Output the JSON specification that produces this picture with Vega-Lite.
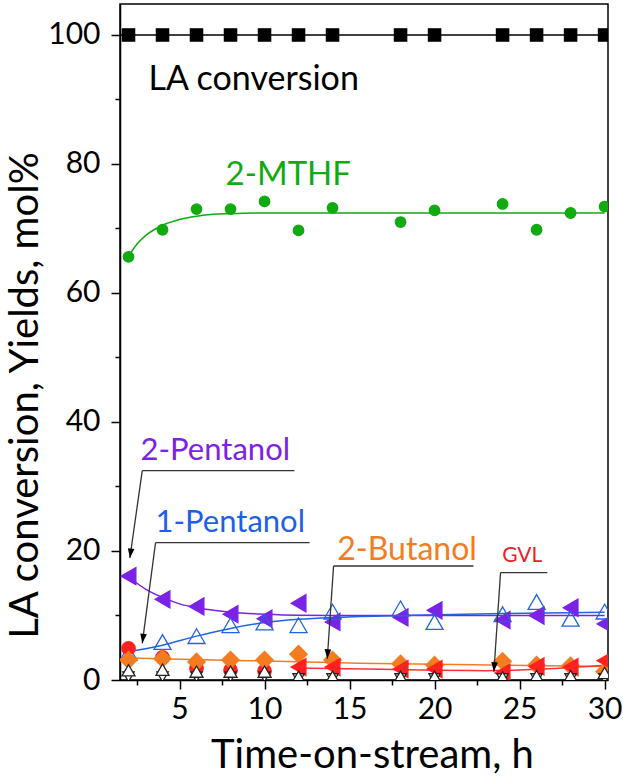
{
  "$schema": "https://vega.github.io/schema/vega-lite/v6.json",
  "width": 488,
  "height": 676,
  "autosize": {"type": "none"},
  "padding": {"left": 120, "top": 4, "right": 15, "bottom": 99},
  "background": "white",
  "config": {
    "font": "Lato",
    "view": {"stroke": "black", "strokeWidth": 1.5},
    "axis": {
      "grid": false,
      "domainColor": "black",
      "domainWidth": 1.5,
      "tickColor": "black",
      "tickWidth": 1.5,
      "labelColor": "black",
      "titleColor": "black",
      "labelFont": "Lato",
      "titleFont": "Lato",
      "labelFontSize": 30,
      "titleFontWeight": "normal"
    }
  },
  "datasets": {
    "points": [
      {"t": 2, "y": 100, "series": "LA conversion"},
      {"t": 4, "y": 100, "series": "LA conversion"},
      {"t": 6, "y": 100, "series": "LA conversion"},
      {"t": 8, "y": 100, "series": "LA conversion"},
      {"t": 10, "y": 100, "series": "LA conversion"},
      {"t": 12, "y": 100, "series": "LA conversion"},
      {"t": 14, "y": 100, "series": "LA conversion"},
      {"t": 18, "y": 100, "series": "LA conversion"},
      {"t": 20, "y": 100, "series": "LA conversion"},
      {"t": 24, "y": 100, "series": "LA conversion"},
      {"t": 26, "y": 100, "series": "LA conversion"},
      {"t": 28, "y": 100, "series": "LA conversion"},
      {"t": 30, "y": 100, "series": "LA conversion"},
      {"t": 2, "y": 65.6, "series": "2-MTHF"},
      {"t": 4, "y": 69.8, "series": "2-MTHF"},
      {"t": 6, "y": 73.0, "series": "2-MTHF"},
      {"t": 8, "y": 73.0, "series": "2-MTHF"},
      {"t": 10, "y": 74.2, "series": "2-MTHF"},
      {"t": 12, "y": 69.7, "series": "2-MTHF"},
      {"t": 14, "y": 73.2, "series": "2-MTHF"},
      {"t": 18, "y": 71.0, "series": "2-MTHF"},
      {"t": 20, "y": 72.8, "series": "2-MTHF"},
      {"t": 24, "y": 73.8, "series": "2-MTHF"},
      {"t": 26, "y": 69.8, "series": "2-MTHF"},
      {"t": 28, "y": 72.4, "series": "2-MTHF"},
      {"t": 30, "y": 73.4, "series": "2-MTHF"},
      {"t": 2, "y": 16.1, "series": "2-Pentanol"},
      {"t": 4, "y": 12.5, "series": "2-Pentanol"},
      {"t": 6, "y": 11.4, "series": "2-Pentanol"},
      {"t": 8, "y": 10.2, "series": "2-Pentanol"},
      {"t": 10, "y": 9.5, "series": "2-Pentanol"},
      {"t": 12, "y": 11.9, "series": "2-Pentanol"},
      {"t": 14, "y": 9.0, "series": "2-Pentanol"},
      {"t": 18, "y": 9.7, "series": "2-Pentanol"},
      {"t": 20, "y": 10.8, "series": "2-Pentanol"},
      {"t": 24, "y": 9.3, "series": "2-Pentanol"},
      {"t": 26, "y": 10.0, "series": "2-Pentanol"},
      {"t": 28, "y": 11.2, "series": "2-Pentanol"},
      {"t": 30, "y": 8.7, "series": "2-Pentanol"},
      {"t": 2, "y": 4.2, "series": "1-Pentanol"},
      {"t": 4, "y": 5.9, "series": "1-Pentanol"},
      {"t": 6, "y": 6.8, "series": "1-Pentanol"},
      {"t": 8, "y": 8.5, "series": "1-Pentanol"},
      {"t": 10, "y": 8.9, "series": "1-Pentanol"},
      {"t": 12, "y": 8.5, "series": "1-Pentanol"},
      {"t": 14, "y": 10.6, "series": "1-Pentanol"},
      {"t": 18, "y": 11.1, "series": "1-Pentanol"},
      {"t": 20, "y": 9.0, "series": "1-Pentanol"},
      {"t": 24, "y": 10.2, "series": "1-Pentanol"},
      {"t": 26, "y": 12.1, "series": "1-Pentanol"},
      {"t": 28, "y": 9.5, "series": "1-Pentanol"},
      {"t": 30, "y": 10.6, "series": "1-Pentanol"},
      {"t": 2, "y": 4.9, "series": "red circles"},
      {"t": 4, "y": 3.5, "series": "red circles"},
      {"t": 6, "y": 1.8, "series": "red circles"},
      {"t": 8, "y": 1.5, "series": "red circles"},
      {"t": 10, "y": 1.4, "series": "red circles"},
      {"t": 2, "y": 3.1, "series": "2-Butanol"},
      {"t": 4, "y": 3.3, "series": "2-Butanol"},
      {"t": 6, "y": 2.8, "series": "2-Butanol"},
      {"t": 8, "y": 3.1, "series": "2-Butanol"},
      {"t": 10, "y": 3.1, "series": "2-Butanol"},
      {"t": 12, "y": 4.0, "series": "2-Butanol"},
      {"t": 14, "y": 3.1, "series": "2-Butanol"},
      {"t": 18, "y": 2.5, "series": "2-Butanol"},
      {"t": 20, "y": 2.3, "series": "2-Butanol"},
      {"t": 24, "y": 2.9, "series": "2-Butanol"},
      {"t": 26, "y": 2.3, "series": "2-Butanol"},
      {"t": 28, "y": 2.2, "series": "2-Butanol"},
      {"t": 30, "y": 1.3, "series": "2-Butanol"},
      {"t": 12, "y": 2.0, "series": "GVL"},
      {"t": 14, "y": 2.0, "series": "GVL"},
      {"t": 18, "y": 1.7, "series": "GVL"},
      {"t": 20, "y": 1.7, "series": "GVL"},
      {"t": 24, "y": 1.1, "series": "GVL"},
      {"t": 26, "y": 2.1, "series": "GVL"},
      {"t": 28, "y": 2.0, "series": "GVL"},
      {"t": 30, "y": 3.0, "series": "GVL"},
      {"t": 2, "y": 0.3, "series": "green"},
      {"t": 4, "y": 0.3, "series": "green"},
      {"t": 6, "y": 0.3, "series": "green"},
      {"t": 8, "y": 0.3, "series": "green"},
      {"t": 10, "y": 0.3, "series": "green"},
      {"t": 12, "y": 0.3, "series": "green"},
      {"t": 14, "y": 0.3, "series": "green"},
      {"t": 18, "y": 0.3, "series": "green"},
      {"t": 20, "y": 0.3, "series": "green"},
      {"t": 24, "y": 0.3, "series": "green"},
      {"t": 26, "y": 0.3, "series": "green"},
      {"t": 28, "y": 0.3, "series": "green"},
      {"t": 30, "y": 0.3, "series": "green"},
      {"t": 2, "y": 0.5, "series": "open down"},
      {"t": 4, "y": 0.5, "series": "open down"},
      {"t": 6, "y": 0.5, "series": "open down"},
      {"t": 8, "y": 0.5, "series": "open down"},
      {"t": 10, "y": 0.5, "series": "open down"},
      {"t": 12, "y": 0.2, "series": "open down"},
      {"t": 14, "y": 0.2, "series": "open down"},
      {"t": 18, "y": 0.2, "series": "open down"},
      {"t": 20, "y": 0.2, "series": "open down"},
      {"t": 24, "y": 0.2, "series": "open down"},
      {"t": 26, "y": 0.2, "series": "open down"},
      {"t": 28, "y": 0.2, "series": "open down"},
      {"t": 30, "y": 0.2, "series": "open down"},
      {"t": 2, "y": 1.5, "series": "open up"},
      {"t": 4, "y": 1.6, "series": "open up"},
      {"t": 6, "y": 1.3, "series": "open up"},
      {"t": 8, "y": 1.3, "series": "open up"},
      {"t": 10, "y": 1.3, "series": "open up"},
      {"t": 12, "y": 0.5, "series": "open up"},
      {"t": 14, "y": 0.5, "series": "open up"},
      {"t": 18, "y": 0.5, "series": "open up"},
      {"t": 20, "y": 0.5, "series": "open up"},
      {"t": 24, "y": 0.4, "series": "open up"},
      {"t": 26, "y": 0.6, "series": "open up"},
      {"t": 28, "y": 0.6, "series": "open up"},
      {"t": 30, "y": 1.1, "series": "open up"}
    ],
    "fits": [
      {"t": 1.5, "y": 100, "series": "LA conversion"},
      {"t": 30.2, "y": 100, "series": "LA conversion"},
      {"t": 2.1, "y": 66.1, "series": "2-MTHF"},
      {"t": 2.5, "y": 67.6, "series": "2-MTHF"},
      {"t": 3, "y": 68.9, "series": "2-MTHF"},
      {"t": 3.5, "y": 69.8, "series": "2-MTHF"},
      {"t": 4, "y": 70.5, "series": "2-MTHF"},
      {"t": 5, "y": 71.4, "series": "2-MTHF"},
      {"t": 6, "y": 71.9, "series": "2-MTHF"},
      {"t": 7, "y": 72.2, "series": "2-MTHF"},
      {"t": 8, "y": 72.3, "series": "2-MTHF"},
      {"t": 10, "y": 72.4, "series": "2-MTHF"},
      {"t": 20, "y": 72.4, "series": "2-MTHF"},
      {"t": 30, "y": 72.4, "series": "2-MTHF"},
      {"t": 2, "y": 16.0, "series": "2-Pentanol"},
      {"t": 2.5, "y": 15.0, "series": "2-Pentanol"},
      {"t": 3, "y": 14.1, "series": "2-Pentanol"},
      {"t": 3.5, "y": 13.4, "series": "2-Pentanol"},
      {"t": 4, "y": 12.8, "series": "2-Pentanol"},
      {"t": 5, "y": 11.8, "series": "2-Pentanol"},
      {"t": 6, "y": 11.2, "series": "2-Pentanol"},
      {"t": 7, "y": 10.8, "series": "2-Pentanol"},
      {"t": 8, "y": 10.5, "series": "2-Pentanol"},
      {"t": 10, "y": 10.2, "series": "2-Pentanol"},
      {"t": 12, "y": 10.05, "series": "2-Pentanol"},
      {"t": 16, "y": 10.0, "series": "2-Pentanol"},
      {"t": 30, "y": 10.0, "series": "2-Pentanol"},
      {"t": 1.8, "y": 4.3, "series": "1-Pentanol"},
      {"t": 4, "y": 5.4, "series": "1-Pentanol"},
      {"t": 6, "y": 6.8, "series": "1-Pentanol"},
      {"t": 8, "y": 8.0, "series": "1-Pentanol"},
      {"t": 10, "y": 8.9, "series": "1-Pentanol"},
      {"t": 12, "y": 9.4, "series": "1-Pentanol"},
      {"t": 14, "y": 9.7, "series": "1-Pentanol"},
      {"t": 18, "y": 10.0, "series": "1-Pentanol"},
      {"t": 24, "y": 10.3, "series": "1-Pentanol"},
      {"t": 30, "y": 10.5, "series": "1-Pentanol"},
      {"t": 2, "y": 3.4, "series": "2-Butanol"},
      {"t": 9, "y": 3.0, "series": "2-Butanol"},
      {"t": 15.6, "y": 2.6, "series": "2-Butanol"},
      {"t": 24, "y": 2.3, "series": "2-Butanol"},
      {"t": 30, "y": 2.1, "series": "2-Butanol"},
      {"t": 11.8, "y": 1.85, "series": "GVL"},
      {"t": 16, "y": 1.7, "series": "GVL"},
      {"t": 20, "y": 1.5, "series": "GVL"},
      {"t": 23, "y": 1.45, "series": "GVL"},
      {"t": 25, "y": 1.55, "series": "GVL"},
      {"t": 27, "y": 1.8, "series": "GVL"},
      {"t": 29, "y": 2.1, "series": "GVL"},
      {"t": 30, "y": 2.3, "series": "GVL"}
    ],
    "notes": [
      {"label": "LA conversion", "t": 3.18, "y": 91.5},
      {"label": "2-MTHF", "t": 7.71, "y": 76.7},
      {"label": "2-Pentanol", "t": 2.71, "y": 34.1},
      {"label": "1-Pentanol", "t": 3.59, "y": 23.0},
      {"label": "2-Butanol", "t": 14.28, "y": 18.6},
      {"label": "GVL", "t": 23.98, "y": 18.3}
    ],
    "leaders": [
      {"label": "2-Pentanol", "t": 2.81, "y": 32.45, "t2": 11.76, "y2": 32.45},
      {"label": "1-Pentanol", "t": 3.59, "y": 21.29, "t2": 12.65, "y2": 21.29},
      {"label": "2-Butanol", "t": 14.06, "y": 17.67, "t2": 22.29, "y2": 17.67},
      {"label": "GVL", "t": 23.88, "y": 16.64, "t2": 26.63, "y2": 16.64},
      {"label": "2-Pentanol", "t": 2.81, "y": 32.45, "t2": 2.08, "y2": 18.91},
      {"label": "1-Pentanol", "t": 3.59, "y": 21.29, "t2": 2.81, "y2": 5.69},
      {"label": "2-Butanol", "t": 14.06, "y": 17.67, "t2": 13.69, "y2": 3.3},
      {"label": "GVL", "t": 23.88, "y": 16.64, "t2": 23.49, "y2": 1.29}
    ],
    "tips": [
      {"label": "2-Pentanol", "t": 2.08, "y": 18.91},
      {"label": "1-Pentanol", "t": 2.81, "y": 5.69},
      {"label": "2-Butanol", "t": 13.69, "y": 3.3},
      {"label": "GVL", "t": 23.49, "y": 1.29}
    ]
  },
  "resolve": {
    "axis": {"x": "independent", "y": "independent"},
    "scale": {"color": "independent"}
  },
  "layer": [
    {
      "data": {"name": "fits"},
      "mark": {"type": "line", "strokeWidth": 1.5, "interpolate": "monotone", "clip": true},
      "encoding": {
        "x": {
          "field": "t",
          "type": "quantitative",
          "scale": {"domain": [1.5, 30.2], "nice": false, "zero": false},
          "axis": {
            "orient": "bottom",
            "values": [2.5, 7.5, 12.5, 17.5, 22.5, 27.5],
            "tickSize": 5,
            "labels": false,
            "domain": false,
            "title": null
          }
        },
        "y": {
          "field": "y",
          "type": "quantitative",
          "scale": {"domain": [0, 104.8], "nice": false, "zero": false},
          "axis": {
            "orient": "left",
            "values": [10, 30, 50, 70, 90],
            "tickSize": 5,
            "labels": false,
            "domain": false,
            "title": null
          }
        },
        "detail": {"field": "series"},
        "color": {
          "field": "series",
          "type": "nominal",
          "legend": null,
          "scale": {
            "domain": ["LA conversion", "2-MTHF", "2-Pentanol", "1-Pentanol", "2-Butanol", "GVL"],
            "range": ["#000000", "#11aa11", "#7b22e6", "#2063e3", "#f47c20", "#ff3030"]
          }
        }
      }
    },
    {
      "data": {"name": "points"},
      "mark": {"type": "point", "filled": true, "strokeWidth": 1.3, "opacity": 1, "clip": true},
      "encoding": {
        "x": {
          "field": "t",
          "type": "quantitative",
          "axis": {
            "orient": "bottom",
            "values": [5, 10, 15, 20, 25, 30],
            "tickSize": 9,
            "labelPadding": 5,
            "title": "Time-on-stream, h",
            "titleFontSize": 40,
            "titleBaseline": "alphabetic",
            "titleX": 252,
            "titleY": 87
          }
        },
        "y": {
          "field": "y",
          "type": "quantitative",
          "axis": {
            "orient": "left",
            "values": [0, 20, 40, 60, 80, 100],
            "tickSize": 9,
            "labelPadding": 11,
            "title": "LA conversion, Yields, mol%",
            "titleFontSize": 40,
            "titleBaseline": "alphabetic",
            "titleX": -83,
            "titleY": 391
          }
        },
        "shape": {
          "field": "series",
          "type": "nominal",
          "legend": null,
          "scale": {
            "domain": ["LA conversion", "2-MTHF", "2-Pentanol", "1-Pentanol", "red circles", "2-Butanol", "GVL", "green", "open down", "open up"],
            "range": ["square", "circle", "triangle-left", "triangle-up", "circle", "diamond", "triangle-left", "diamond", "triangle-down", "triangle-up"]
          }
        },
        "size": {
          "condition": [
            {"test": "datum.series === 'LA conversion'", "value": 150},
            {"test": "datum.series === '2-MTHF'", "value": 110},
            {"test": "datum.series === 'red circles'", "value": 180},
            {"test": "datum.series === '2-Butanol'", "value": 300},
            {"test": "datum.series === 'green'", "value": 12},
            {"test": "datum.series === 'open down'", "value": 130},
            {"test": "datum.series === 'open up'", "value": 170}
          ],
          "value": 290
        },
        "fill": {
          "field": "series",
          "type": "nominal",
          "legend": null,
          "scale": {
            "domain": ["LA conversion", "2-MTHF", "2-Pentanol", "1-Pentanol", "red circles", "2-Butanol", "GVL", "green", "open down", "open up"],
            "range": ["#000000", "#11aa11", "#7b22e6", "transparent", "#ff2020", "#f47c20", "#ff2020", "#11aa11", "white", "white"]
          }
        },
        "stroke": {
          "field": "series",
          "type": "nominal",
          "legend": null,
          "scale": {
            "domain": ["LA conversion", "2-MTHF", "2-Pentanol", "1-Pentanol", "red circles", "2-Butanol", "GVL", "green", "open down", "open up"],
            "range": ["#000000", "#11aa11", "#7b22e6", "#2063e3", "#ff2020", "#f47c20", "#ff2020", "#11aa11", "#222222", "#222222"]
          }
        }
      }
    },
    {
      "data": {"name": "leaders"},
      "mark": {"type": "rule", "color": "#333333", "strokeWidth": 1.3},
      "encoding": {
        "x": {"field": "t", "type": "quantitative", "axis": null},
        "y": {"field": "y", "type": "quantitative", "axis": null},
        "x2": {"field": "t2"},
        "y2": {"field": "y2"}
      }
    },
    {
      "data": {"name": "tips"},
      "mark": {"type": "point", "filled": true, "color": "black", "shape": "M0,0L-0.35,-1L0.35,-1Z", "size": 360, "opacity": 1},
      "encoding": {
        "x": {"field": "t", "type": "quantitative", "axis": null},
        "y": {"field": "y", "type": "quantitative", "axis": null},
        "angle": {
          "condition": {"test": "datum.label === '2-Pentanol' || datum.label === '1-Pentanol'", "value": 8},
          "value": 4
        }
      }
    },
    {
      "data": {"name": "notes"},
      "mark": {"type": "text", "align": "left", "baseline": "alphabetic", "font": "Lato"},
      "encoding": {
        "x": {"field": "t", "type": "quantitative", "axis": null},
        "y": {"field": "y", "type": "quantitative", "axis": null},
        "text": {"field": "label"},
        "color": {
          "field": "label",
          "type": "nominal",
          "legend": null,
          "scale": {
            "domain": ["LA conversion", "2-MTHF", "2-Pentanol", "1-Pentanol", "2-Butanol", "GVL"],
            "range": ["#000000", "#11aa11", "#7b22e6", "#1f5fe6", "#f47c20", "#ee1c25"]
          }
        },
        "size": {
          "condition": [
            {"test": "datum.label === 'LA conversion'", "value": 34},
            {"test": "datum.label === '2-MTHF'", "value": 33},
            {"test": "datum.label === '2-Butanol'", "value": 32},
            {"test": "datum.label === 'GVL'", "value": 21}
          ],
          "value": 31
        }
      }
    }
  ]
}
